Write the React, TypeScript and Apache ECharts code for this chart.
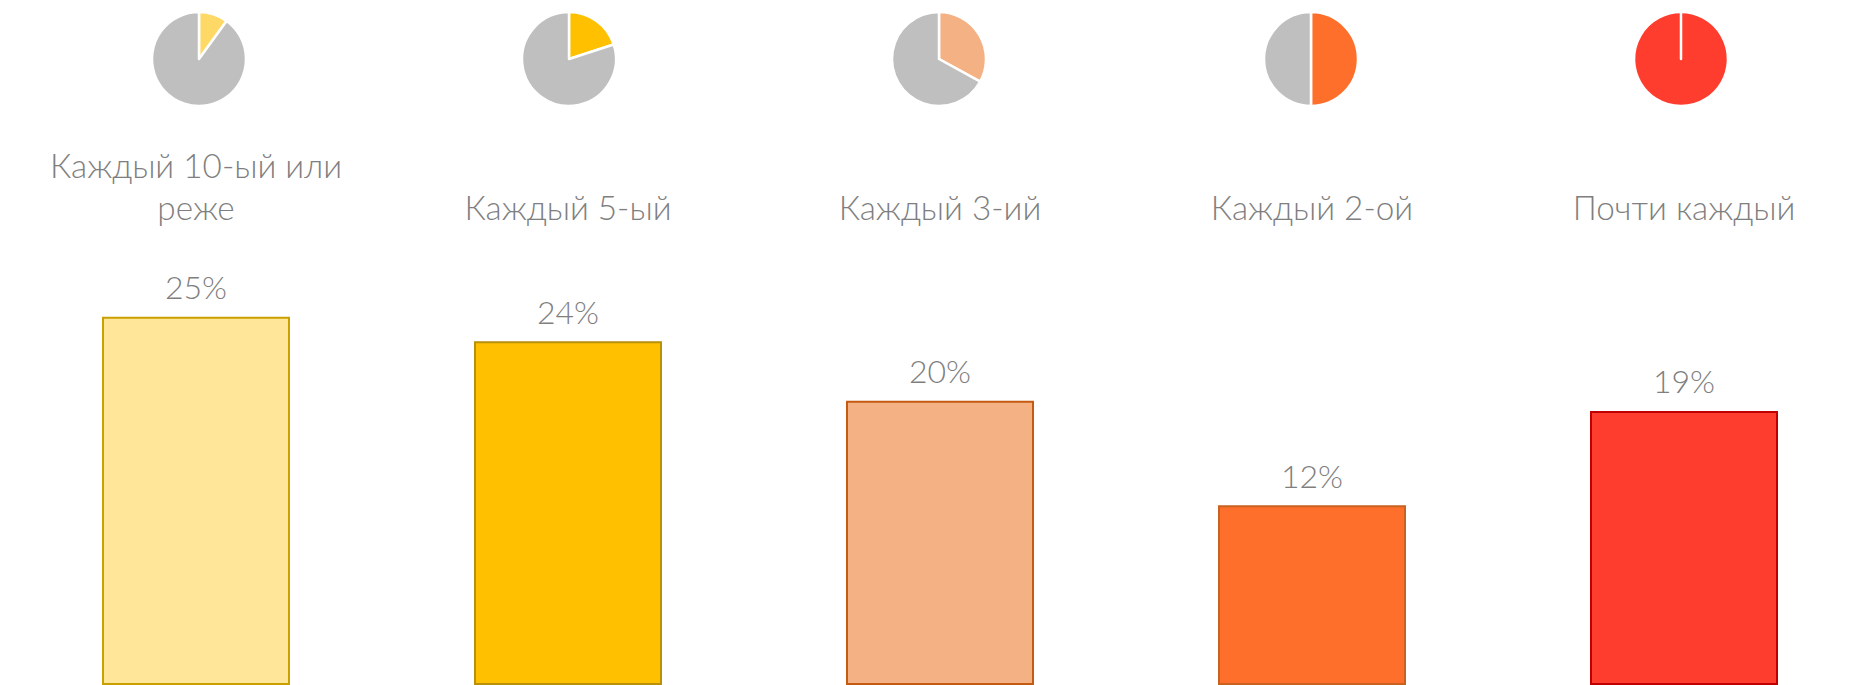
import React, { useEffect, useRef } from "react";
import * as echarts from "echarts";

const categories = ["Каждый 10-ый или\nреже", "Каждый 5-ый", "Каждый 3-ий", "Каждый 2-ой", "Почти каждый"];
const barValues = [25.4, 23.7, 19.6, 12.4, 18.9];
const pieShares = [10, 20, 33, 50, 100];
const barColors = ["#FFE699", "#FFC000", "#F4B183", "#FF6F2C", "#FF3D2E"];
const barBorders = ["#C9A000", "#B8900A", "#C55A11", "#C8621E", "#C00000"];
const pieColors = ["#FFD966", "#FFC000", "#F4B183", "#FF6F2C", "#FF3D2E"];
const pieCentersX = [199, 569, 939, 1311, 1681];
const restColor = "#BFBFBF";
const textColor = "#7F7F7F";
const fontFamily = "Lato, 'Noto Sans', sans-serif";

export default function App() {
  const ref = useRef<HTMLDivElement>(null);
  useEffect(() => {
    if (!ref.current) return;
    const chart = echarts.init(ref.current, undefined, { renderer: "svg" });
    const pies = pieShares.map((s, i) => ({
      type: "pie",
      center: [pieCentersX[i], 59],
      radius: 47,
      startAngle: 90,
      clockwise: true,
      silent: true,
      label: { show: false },
      labelLine: { show: false },
      itemStyle: { borderColor: "#ffffff", borderWidth: 2.5 },
      data: [
        { value: s, itemStyle: { color: pieColors[i] } },
        { value: 100 - s, itemStyle: { color: restColor } },
      ],
    }));
    chart.setOption({
      animation: false,
      grid: { left: 10, right: 0, top: 250, bottom: 0, containLabel: false },
      xAxis: {
        type: "category",
        position: "top",
        data: categories,
        axisLine: { show: false },
        axisTick: { show: false },
        axisLabel: {
          color: textColor,
          fontFamily,
          fontSize: 33.3,
          fontWeight: 300,
          lineHeight: 42,
          margin: 22,
          interval: 0,
        },
      },
      yAxis: { type: "value", min: 0, max: 30, show: false, splitLine: { show: false } },
      series: [
        {
          type: "bar",
          barWidth: 188,
          data: barValues.map((v, i) => ({
            value: v,
            itemStyle: { color: barColors[i], borderColor: barBorders[i], borderWidth: 2 },
          })),
          label: {
            show: true,
            position: "top",
            distance: 14,
            color: textColor,
            fontFamily,
            fontSize: 32,
            fontWeight: 300,
            formatter: (p: any) => Math.round(p.value) + "%",
          },
        },
        ...pies,
      ],
    });
    return () => chart.dispose();
  }, []);
  return (
    <div style={{ position: "absolute", left: 0, top: 0, width: 1862, height: 685, overflow: "hidden" }}>
      <div ref={ref} style={{ position: "absolute", left: 0, top: 0, width: 1870, height: 685 }} />
    </div>
  );
}
